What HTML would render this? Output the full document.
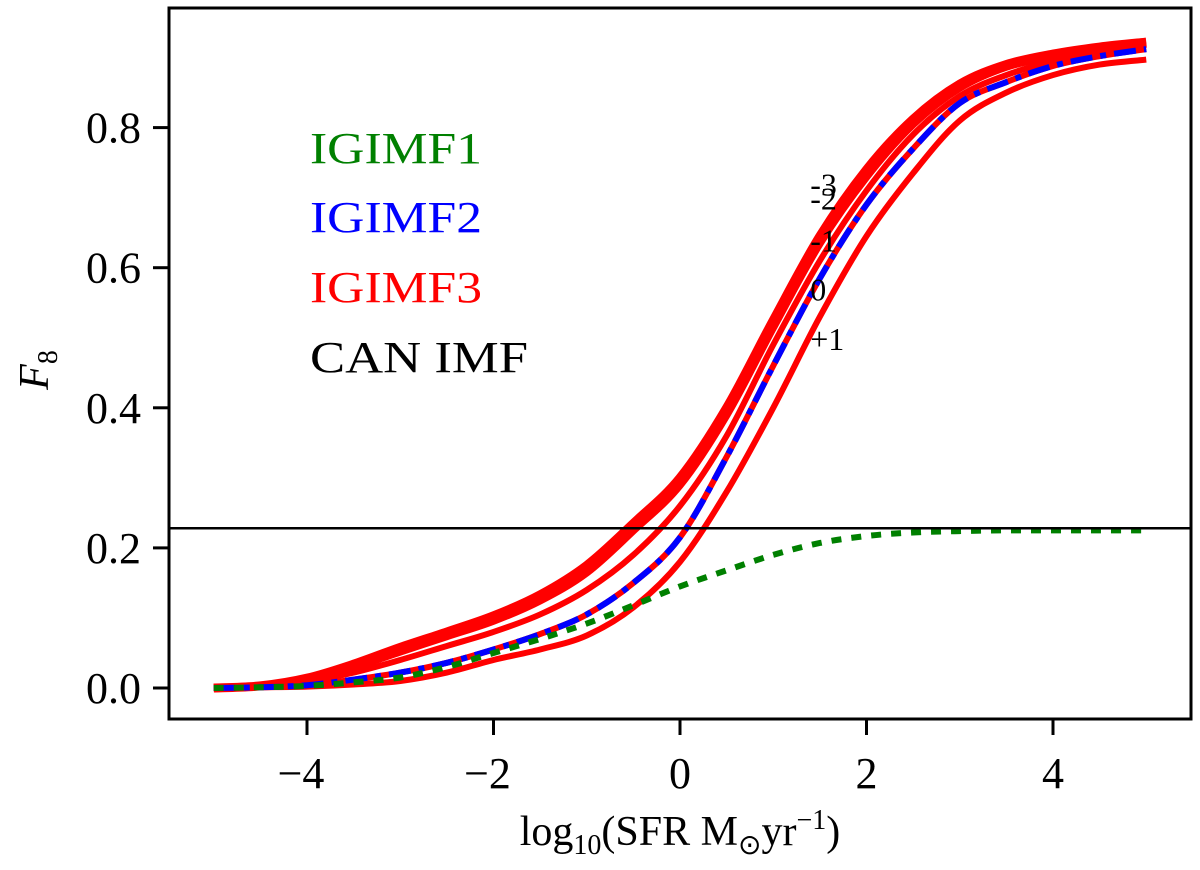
<!DOCTYPE html>
<html><head><meta charset="utf-8"><style>
body{margin:0;background:#fff}
svg text{font-family:"Liberation Serif",serif}
</style></head><body>
<svg id="chart" width="1200" height="865" xmlns="http://www.w3.org/2000/svg">
<g id="plot"></g>
<g id="axes"></g>
</svg>
<script>
const xVals=[-5,-4.5,-4,-3.5,-3,-2.5,-2,-1.5,-1,-0.5,0,0.5,1,1.5,2,2.5,3,3.5,4,4.5,5];
const redM3=[0,0.003,0.014,0.034,0.058,0.08,0.103,0.133,0.175,0.235,0.3,0.4,0.525,0.645,0.74,0.812,0.862,0.89,0.905,0.915,0.922];
const redM2=[0,0.003,0.012,0.03,0.052,0.074,0.096,0.125,0.165,0.225,0.29,0.39,0.515,0.635,0.73,0.805,0.857,0.887,0.902,0.913,0.92];
const redM1=[0,0.002,0.009,0.022,0.04,0.06,0.08,0.105,0.14,0.19,0.26,0.36,0.49,0.61,0.71,0.79,0.845,0.875,0.895,0.91,0.918];
const red0=[0,0.001,0.004,0.012,0.022,0.036,0.055,0.077,0.105,0.15,0.215,0.33,0.46,0.585,0.69,0.77,0.835,0.865,0.888,0.902,0.912];
const redP1=[0,0.001,0.002,0.005,0.01,0.022,0.04,0.055,0.075,0.115,0.18,0.28,0.40,0.53,0.645,0.735,0.81,0.85,0.875,0.89,0.897];
const blue=red0;
const green=[0,0.001,0.003,0.008,0.015,0.03,0.05,0.07,0.092,0.118,0.145,0.168,0.19,0.207,0.217,0.222,0.224,0.225,0.225,0.225,0.225];
const redLabels=["-3","-2","-1","0","+1"];
const labelPos=[[1.45,0.72],[1.45,0.70],[1.45,0.64],[1.45,0.57],[1.45,0.50]];
const xTicks=[-4,-2,0,2,4];
const yTicks=[0,0.2,0.4,0.6,0.8];
const hLine=0.228;

const X=v=>680+93.25*v, Y=v=>688-700.5*v;
const NS="http://www.w3.org/2000/svg";
const plot=document.getElementById('plot'), axes=document.getElementById('axes');
function mk(tag,attrs,parent){const e=document.createElementNS(NS,tag);for(const k in attrs)e.setAttribute(k,attrs[k]);parent.appendChild(e);return e;}
function path(ys){
  const p=xVals.map((x,i)=>[X(x),Y(ys[i])]);
  let d='M'+p[0][0]+','+p[0][1];
  for(let i=0;i<p.length-1;i++){
    const p0=p[Math.max(0,i-1)],p1=p[i],p2=p[i+1],p3=p[Math.min(p.length-1,i+2)];
    const c1=[p1[0]+(p2[0]-p0[0])/6,p1[1]+(p2[1]-p0[1])/6];
    const c2=[p2[0]-(p3[0]-p1[0])/6,p2[1]-(p3[1]-p1[1])/6];
    d+=' C'+c1.join(',')+' '+c2.join(',')+' '+p2.join(',');
  }
  return d;
}

const reds=[[redM3,9],[redM2,8],[redM1,6],[red0,6],[redP1,6]];
reds.forEach((r,i)=>{
  const p=mk('path',{d:path(r[0]),fill:'none',stroke:'#ff0000','stroke-width':r[1],'stroke-linejoin':'round'},plot);
  
  
});
const b=mk('path',{d:path(blue),fill:'none',stroke:'#0000ff','stroke-width':6,'stroke-dasharray':'22 8 6 8'},plot);


const g=mk('path',{d:path(green),fill:'none',stroke:'#008000','stroke-width':6,'stroke-dasharray':'10 10'},plot);


const hl=mk('line',{x1:169,x2:1191,y1:Y(hLine),y2:Y(hLine),stroke:'#000','stroke-width':2.5},plot);


redLabels.forEach((l,i)=>{
  const t=mk('text',{x:X(labelPos[i][0])-5,y:Y(labelPos[i][1])+12,'font-size':32,fill:'#000'},plot);
  t.textContent=l;
  
  
});
const fr=mk('rect',{x:169,y:8,width:1022,height:711,fill:'none',stroke:'#000','stroke-width':3},axes);


xTicks.forEach(v=>{
  const tk=mk('line',{x1:X(v),x2:X(v),y1:719,y2:735,stroke:'#000','stroke-width':3},axes);
  
  
  const t=mk('text',{x:X(v)-(v<0?6:0),y:788,'font-size':44,'text-anchor':'middle'},axes);
  t.textContent=(v<0?'\u2212'+(-v):String(v));
  
  
});
yTicks.forEach(v=>{
  const tk=mk('line',{x1:153,x2:169,y1:Y(v),y2:Y(v),stroke:'#000','stroke-width':3},axes);
  
  
  const t=mk('text',{x:141,y:Y(v)+15,'font-size':44,'text-anchor':'end'},axes);
  t.textContent=v.toFixed(1);
  
  
});
</script>
<svg width="1200" height="865" style="position:absolute;left:0;top:0" xmlns="http://www.w3.org/2000/svg">
<g font-size="44" font-family="Liberation Serif, serif">
<text x="310" y="163" fill="#008000" textLength="172" lengthAdjust="spacingAndGlyphs">IGIMF1</text>
<text x="310" y="232" fill="#0000ff" textLength="172" lengthAdjust="spacingAndGlyphs">IGIMF2</text>
<text x="310" y="302" fill="#ff0000" textLength="172" lengthAdjust="spacingAndGlyphs">IGIMF3</text>
<text x="310" y="372" fill="#000" textLength="218" lengthAdjust="spacingAndGlyphs">CAN IMF</text>
</g>
<text x="680" y="845" font-size="42" text-anchor="middle" font-family="Liberation Serif, serif">log<tspan font-size="28" dy="9">10</tspan><tspan dy="-9">(SFR M</tspan><tspan font-size="28" dy="9">⊙</tspan><tspan dy="-9">yr</tspan><tspan font-size="28" dy="-16">−1</tspan><tspan dy="16">)</tspan></text>
<text transform="translate(48,370) rotate(-90)" font-size="42" text-anchor="middle" font-family="Liberation Serif, serif" font-style="italic">F<tspan font-size="28" dy="9" font-style="normal">8</tspan></text>
</svg>
</body></html>
